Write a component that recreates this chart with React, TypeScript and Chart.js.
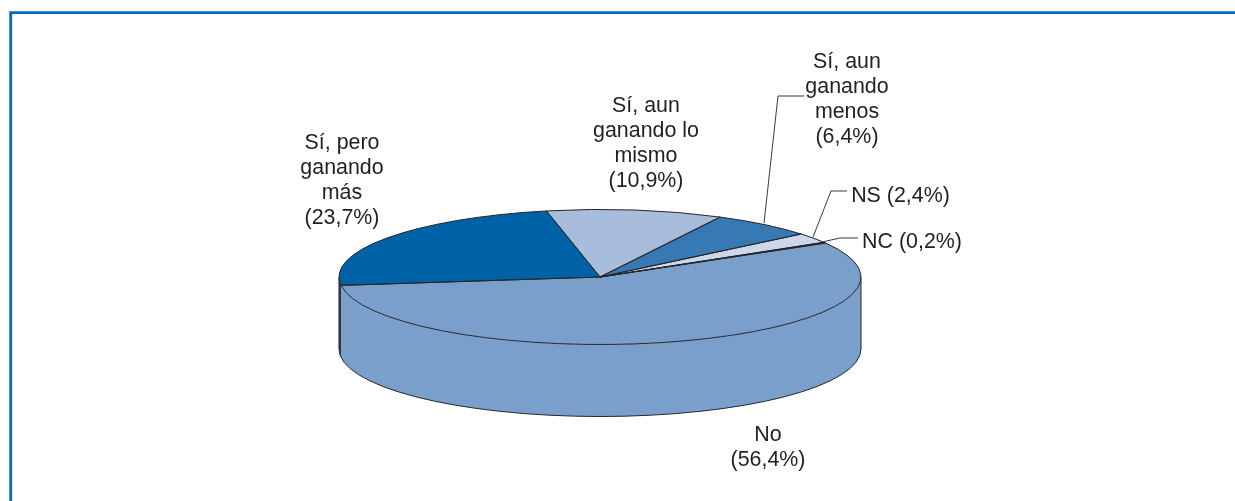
import React, { useEffect, useRef } from "react";
import { Chart, registerables } from "chart.js";

Chart.register(...registerables);

const categories = ["No", "Sí, pero ganando más", "Sí, aun ganando lo mismo", "Sí, aun ganando menos", "NS", "NC"];
const shares = [56.4, 23.7, 10.9, 6.4, 2.4, 0.2];
const sliceColors = ["#7a9fca", "#0062a6", "#a8bcdb", "#377ab3", "#ccd7ea", "#1d1d22"];
const wallColors = ["#7a9fca", "#2b3a55", "#8496b0", "#2c6290", "#a3acbb", "#1d1d22"];
const labelLines = [
  ["No", "(56,4%)"],
  ["Sí, pero", "ganando", "más", "(23,7%)"],
  ["Sí, aun", "ganando lo", "mismo", "(10,9%)"],
  ["Sí, aun", "ganando", "menos", "(6,4%)"],
  ["NS (2,4%)"],
  ["NC (0,2%)"],
];

const W = 1235;
const H = 501;
const CX = 600;
const CY = 277;
const RX = 261;
const RY = 67.5;
const DEPTH = 72;
const ROT = 59.8;
const INK = "#26262c";
const FONT = '21.4px "Liberation Sans", Arial, sans-serif';
const LINE_H = 25;

const labelAnchors = [
  { x: 768, y: 435 },
  { x: 342, y: 143 },
  { x: 646, y: 106 },
  { x: 847, y: 62 },
  { x: 900.5, y: 196 },
  { x: 912, y: 242 },
];
const leaders: (number[][] | null)[] = [
  null,
  null,
  null,
  [[764, 223], [778, 96], [804, 96]],
  [[813, 237], [831, 191], [847, 191]],
  [[822, 242], [840, 238], [858, 238]],
];

const ellipsePlugin = {
  id: "ellipse3d",
  beforeDatasetsDraw(chart: any) {
    const ctx = chart.ctx;
    const arcs = chart.getDatasetMeta(0).data;
    const ox = arcs[0].x;
    const oy = arcs[0].y;
    const R = arcs[0].outerRadius;
    const ry = (R * RY) / RX;

    // Side wall: the lower half of each slice, extruded downward
    ctx.save();
    arcs.forEach((a: any, i: number) => {
      for (const k of [-2, 0, 2]) {
        const from = Math.max(a.startAngle + k * Math.PI, 0);
        const to = Math.min(a.endAngle + k * Math.PI, Math.PI);
        if (to <= from) continue;
        ctx.beginPath();
        ctx.ellipse(CX, CY, R, ry, 0, from, to);
        ctx.ellipse(CX, CY + DEPTH, R, ry, 0, to, from, true);
        ctx.closePath();
        ctx.fillStyle = wallColors[i];
        ctx.fill();
      }
    });
    ctx.beginPath();
    ctx.moveTo(CX - R, CY);
    ctx.lineTo(CX - R, CY + DEPTH);
    ctx.ellipse(CX, CY + DEPTH, R, ry, 0, Math.PI, 0, true);
    ctx.lineTo(CX + R, CY);
    ctx.lineWidth = 1;
    ctx.strokeStyle = INK;
    ctx.stroke();
    ctx.restore();

    // Flatten the library's arcs into the tilted top face
    ctx.save();
    ctx.translate(CX, CY);
    ctx.scale(1, RY / RX);
    ctx.translate(-ox, -oy);
  },
  afterDatasetsDraw(chart: any) {
    const ctx = chart.ctx;
    ctx.restore();
    const arcs = chart.getDatasetMeta(0).data;
    const R = arcs[0].outerRadius;
    const ry = (R * RY) / RX;

    ctx.save();
    ctx.lineWidth = 1;
    ctx.strokeStyle = INK;
    arcs.forEach((a: any) => {
      ctx.beginPath();
      ctx.moveTo(CX, CY);
      ctx.ellipse(CX, CY, R, ry, 0, a.startAngle, a.endAngle);
      ctx.closePath();
      ctx.stroke();
    });
    ctx.restore();

    // Leader lines and labels
    ctx.save();
    ctx.lineWidth = 1;
    ctx.strokeStyle = "#3a3a40";
    leaders.forEach((pts) => {
      if (!pts) return;
      ctx.beginPath();
      pts.forEach((p, i) => (i ? ctx.lineTo(p[0], p[1]) : ctx.moveTo(p[0], p[1])));
      ctx.stroke();
    });
    ctx.fillStyle = "#1f1f24";
    ctx.font = FONT;
    ctx.textAlign = "center";
    ctx.textBaseline = "middle";
    labelLines.forEach((lines, i) => {
      lines.forEach((t, j) => ctx.fillText(t, labelAnchors[i].x, labelAnchors[i].y + j * LINE_H));
    });
    ctx.restore();
  },
};

const framePlugin = {
  id: "frame",
  beforeDraw(chart: any) {
    const ctx = chart.ctx;
    ctx.save();
    ctx.fillStyle = "#ffffff";
    ctx.fillRect(0, 0, W, H);
    ctx.strokeStyle = "#0b6ab4";
    ctx.lineWidth = 2.8;
    ctx.beginPath();
    ctx.moveTo(10.7, H);
    ctx.lineTo(10.7, 12.7);
    ctx.lineTo(W, 12.7);
    ctx.stroke();
    ctx.restore();
  },
};

export default function App() {
  const ref = useRef<HTMLCanvasElement | null>(null);
  useEffect(() => {
    if (!ref.current) return;
    const chart = new Chart(ref.current, {
      type: "pie",
      data: {
        labels: categories,
        datasets: [
          {
            data: shares,
            backgroundColor: sliceColors,
            borderWidth: 0,
            radius: RX,
          },
        ],
      },
      options: {
        responsive: false,
        animation: false,
        rotation: ROT,
        events: [],
        plugins: { legend: { display: false }, tooltip: { enabled: false } },
      },
      plugins: [framePlugin, ellipsePlugin],
    } as any);
    return () => chart.destroy();
  }, []);
  return (
    <canvas
      ref={ref}
      width={W}
      height={H}
      style={{ position: "absolute", left: 0, top: 0, display: "block" }}
    />
  );
}
